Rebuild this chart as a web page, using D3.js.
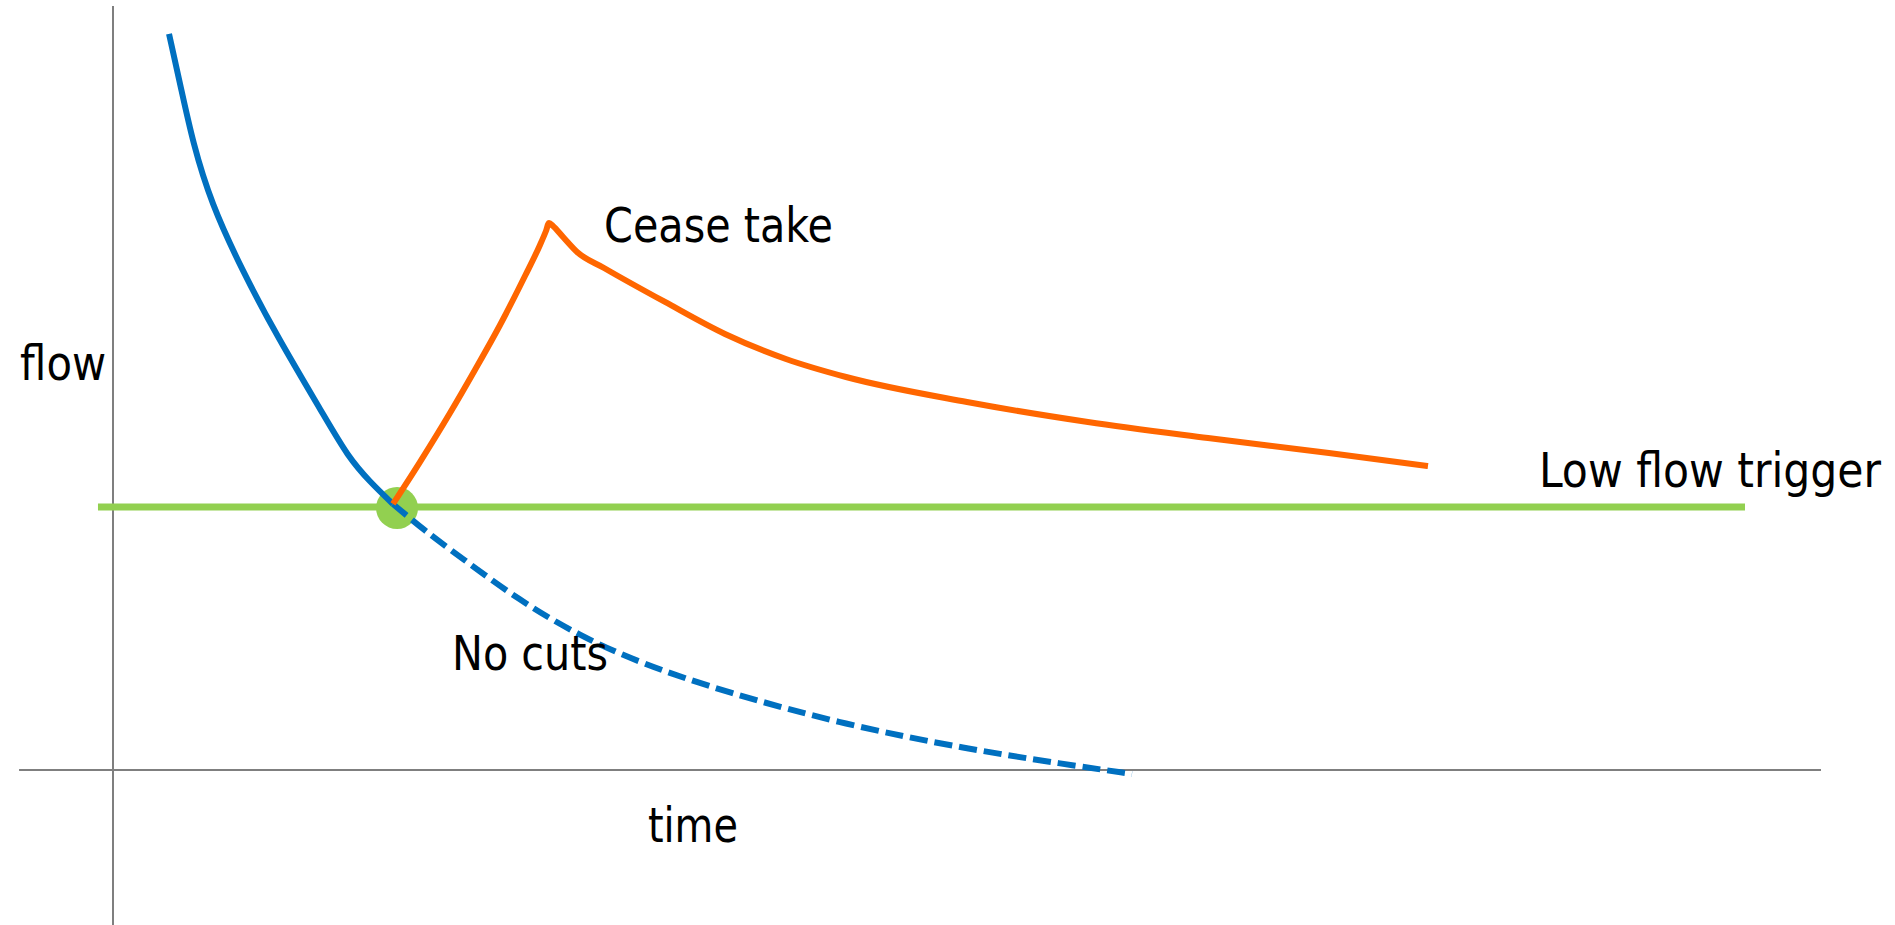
<!DOCTYPE html>
<html>
<head>
<meta charset="utf-8">
<script src="https://cdn.jsdelivr.net/npm/d3@7"></script>
<style>
  html, body { margin: 0; padding: 0; background: #ffffff; }
  svg { display: block; }
  text { font-family: "DejaVu Sans Condensed", "DejaVu Sans", sans-serif; font-stretch: condensed; fill: #000; }
</style>
</head>
<body>
<svg id="chart" width="1895" height="925"></svg>
<script>
// ---- data (abstract units: time 0..100, flow 0..100) ----
const naturalTime = [3.28, 3.98, 4.68, 5.74, 7.55, 9.66, 12.30, 13.76, 15.05, 16.39];
const naturalFlow = [96.34, 89.27, 82.07, 74.21, 65.45, 56.54, 46.60, 40.97, 37.70, 34.82];

const noCutsTime = [16.39, 18.27, 20.26, 23.83, 27.34, 30.85, 35.83, 42.92, 50.00, 55.62, 59.66];
const noCutsFlow = [34.82, 31.28, 28.01, 22.12, 17.54, 14.01, 10.21, 5.89, 2.75, 0.79, -0.52];

const ceaseTime = [16.39, 17.97, 19.73, 21.19, 22.66, 24.12, 25.00, 25.35, 25.53, 25.76, 26.35, 27.17, 28.75, 32.32, 35.83, 39.40, 42.92, 50.00, 57.08, 64.11, 71.19, 76.99];
const ceaseFlow = [34.82, 40.31, 46.73, 52.36, 58.25, 64.66, 68.72, 70.55, 71.60, 71.20, 69.76, 67.80, 65.71, 61.26, 57.07, 53.80, 51.44, 48.17, 45.55, 43.46, 41.49, 39.79];

const triggerFlow = 34.42;
const triggerTimeExtent = [-0.88, 95.55];
const triggerPoint = [16.63, 34.29];

const timeAxisExtent = [-5.5, 100];
const flowAxisExtent = [-20.3, 100];

const labelTexts = ["Cease take", "No cuts", "time", "flow", "Low flow trigger"];
const labelTimes = [28.75, 19.85, 31.32, -5.44, 83.49];
const labelFlows = [69.11, 13.09, -9.42, 51.05, 37.04];

// ---- layout / style ----
const x = d3.scaleLinear().domain([0, 100]).range([113, 1821]);
const y = d3.scaleLinear().domain([0, 100]).range([770, 6]);
const labelWidths = [229, 156, 90, 86, 342];

const svg = d3.select("#chart");

const zip = (ts, fs) => ts.map((t, i) => [t, fs[i]]);
const line = d3.line().x(d => x(d[0])).y(d => y(d[1])).curve(d3.curveMonotoneX);
const smoothLine = d3.line().x(d => x(d[0])).y(d => y(d[1])).curve(d3.curveBasis);

// axes
svg.append("line")
  .attr("x1", x(timeAxisExtent[0])).attr("x2", x(timeAxisExtent[1]))
  .attr("y1", y(0)).attr("y2", y(0))
  .attr("stroke", "#7f7f7f").attr("stroke-width", 2);
svg.append("line")
  .attr("x1", x(0)).attr("x2", x(0))
  .attr("y1", y(flowAxisExtent[1])).attr("y2", y(flowAxisExtent[0]))
  .attr("stroke", "#7f7f7f").attr("stroke-width", 2);

// low flow trigger
svg.append("line")
  .attr("x1", x(triggerTimeExtent[0])).attr("x2", x(triggerTimeExtent[1]))
  .attr("y1", y(triggerFlow)).attr("y2", y(triggerFlow))
  .attr("stroke", "#92D050").attr("stroke-width", 7);

svg.append("circle")
  .attr("cx", x(triggerPoint[0])).attr("cy", y(triggerPoint[1]))
  .attr("r", 21).attr("fill", "#92D050");

// natural recession (solid blue)
svg.append("path").datum(zip(naturalTime, naturalFlow))
  .attr("d", smoothLine).attr("fill", "none")
  .attr("stroke", "#0070C0").attr("stroke-width", 6);

// no cuts (dashed blue)
svg.append("path").datum(zip(noCutsTime, noCutsFlow))
  .attr("d", smoothLine).attr("fill", "none")
  .attr("stroke", "#0070C0").attr("stroke-width", 6)
  .attr("stroke-dasharray", "18,7");

// cease take (orange)
svg.append("path").datum(zip(ceaseTime, ceaseFlow))
  .attr("d", line).attr("fill", "none")
  .attr("stroke", "#FF6600").attr("stroke-width", 6)
  .attr("stroke-linejoin", "round");

// labels
svg.selectAll("text.lbl").data(labelTexts).enter().append("text")
  .attr("class", "lbl")
  .attr("x", (d, i) => x(labelTimes[i]))
  .attr("y", (d, i) => y(labelFlows[i]))
  .attr("font-size", 48)
  .attr("textLength", (d, i) => labelWidths[i])
  .attr("lengthAdjust", "spacingAndGlyphs")
  .text(d => d);
</script>
</body>
</html>
